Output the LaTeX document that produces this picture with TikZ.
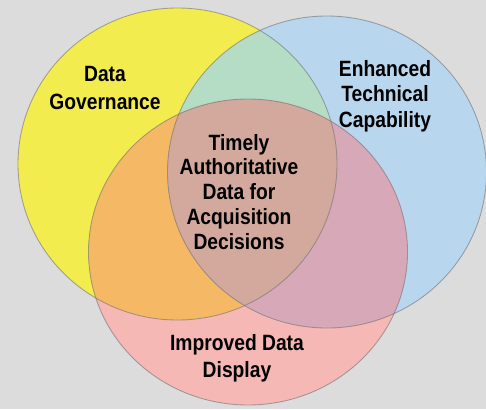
\documentclass[tikz,border=0pt]{standalone}
\usepackage{fontspec}
\setmainfont{Liberation Sans}[FakeStretch=0.87]
\usepackage{tikz}

\definecolor{bggray}{HTML}{DCDCDC}
\definecolor{govyellow}{HTML}{F3EC4F}
\definecolor{techblue}{HTML}{B9D6EF}
\definecolor{displaypink}{HTML}{F5B8B4}
\definecolor{govtech}{HTML}{B5DCC4}
\definecolor{govdisplay}{HTML}{F5B965}
\definecolor{techdisplay}{HTML}{D6A8B8}
\definecolor{allthree}{HTML}{D3A99D}

\def\govdisk{(177.5,164) ellipse [x radius=159.5, y radius=156]}
\def\techdisk{(327,172) ellipse [x radius=159.5, y radius=156]}
\def\displaydisk{(248,252) ellipse [x radius=159.5, y radius=153]}

\tikzset{
  setlabel/.style={align=center, text=black, inner sep=0pt},
  rim/.style={draw=black!55, draw opacity=0.6, line width=0.5pt}
}

\begin{document}
\begin{tikzpicture}[x=0.02cm, y=-0.02cm]
      \fill[bggray] (0,0) rectangle (486,409);
      \useasboundingbox (0,0) rectangle (486,409);

      \fill[govyellow] \govdisk;
      \fill[techblue] \techdisk;
      \fill[displaypink] \displaydisk;

      \begin{scope}
        \clip \govdisk;
        \fill[govtech] \techdisk;
        \fill[govdisplay] \displaydisk;
      \end{scope}
      \begin{scope}
        \clip \techdisk;
        \fill[techdisplay] \displaydisk;
        \clip \govdisk;
        \fill[allthree] \displaydisk;
      \end{scope}

      \path[rim] \govdisk;
      \path[rim] \techdisk;
      \path[rim] \displaydisk;

      \node at(105,88) [setlabel, font=\bfseries\fontsize{12.6}{15.9}\selectfont] (governance) {Data\\Governance};
      \node at(385,96) [setlabel, font=\bfseries\fontsize{12.6}{14.5}\selectfont] (technical) {Enhanced\\Technical\\Capability};
      \node at(239,192) [setlabel, font=\bfseries\fontsize{12.6}{14.2}\selectfont] (timely) {Timely\\Authoritative\\Data for\\Acquisition\\Decisions};
      \node at(237,358) [setlabel, font=\bfseries\fontsize{12.6}{15.3}\selectfont] (display) {Improved Data\\Display};
\end{tikzpicture}
\end{document}
